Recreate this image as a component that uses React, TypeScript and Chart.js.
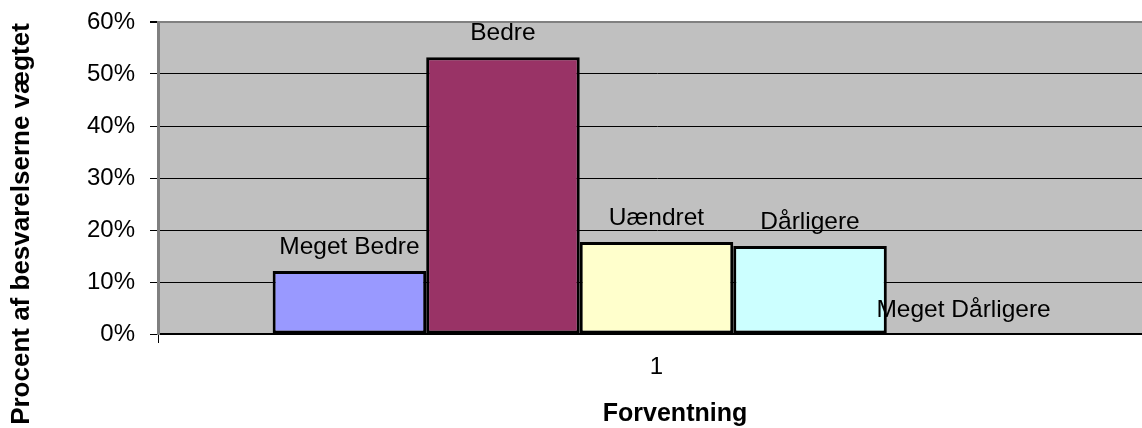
import React, { useEffect, useRef } from "react";
import { Chart, registerables } from "chart.js";

Chart.register(...registerables);

const categories = ["1"];
const seriesNames = ["Meget Bedre", "Bedre", "Uændret", "Dårligere", "Meget Dårligere"];
const seriesValues = [12.1, 53.2, 17.7, 16.9, 0];
const seriesColors = ["#9999FF", "#993366", "#FFFFCC", "#CCFFFF", "#660066"];
const yTicks = [0, 10, 20, 30, 40, 50, 60];
const yTitle = "Procent af besvarelserne vægtet";
const xTitle = "Forventning";

const W = 1155;
const H = 428;

export default function App() {
  const ref = useRef<HTMLCanvasElement | null>(null);
  useEffect(() => {
    const canvas = ref.current!;
    const font = "'Liberation Sans', Arial, sans-serif";
    const decor = {
      id: "decor",
      beforeDraw(chart: any) {
        const { ctx, chartArea: a } = chart;
        ctx.save();
        ctx.fillStyle = "#C0C0C0";
        ctx.fillRect(a.left, a.top, a.right - a.left, a.bottom - a.top);
        ctx.restore();
      },
      afterDatasetsDraw(chart: any) {
        const { ctx } = chart;
        ctx.save();
        ctx.fillStyle = "#000";
        ctx.font = `24.5px ${font}`;
        ctx.textAlign = "center";
        ctx.textBaseline = "alphabetic";
        chart.data.datasets.forEach((ds: any, i: number) => {
          const meta = chart.getDatasetMeta(i);
          const el = meta.data[0];
          if (!el) return;
          ctx.fillText(ds.label, el.x, el.y - 17);
        });
        // titles
        ctx.font = `bold 25px ${font}`;
        ctx.textAlign = "center";
        ctx.textBaseline = "middle";
        ctx.fillText(xTitle, 675, 414);
        ctx.font = `bold 26px ${font}`;
        ctx.translate(22, 224);
        ctx.rotate(-Math.PI / 2);
        ctx.fillText(yTitle, 0, 0);
        ctx.restore();
      },
    };
    const chart = new Chart(canvas, {
      type: "bar",
      data: {
        labels: categories,
        datasets: seriesNames.map((n, i) => ({
          label: n,
          data: [seriesValues[i]],
          backgroundColor: seriesColors[i],
          borderColor: "#000",
          borderWidth: 3,
          borderSkipped: false,
          barPercentage: 1,
          categoryPercentage: 0.77,
        })),
      },
      options: {
        responsive: false,
        animation: false,
        devicePixelRatio: 1,
        layout: { padding: { top: 22, left: 0, right: 0, bottom: 0 } },
        plugins: { legend: { display: false }, tooltip: { enabled: false } },
        scales: {
          x: {
            offset: true,
            grid: {
              drawOnChartArea: false,
              drawTicks: true,
              tickLength: 9,
              tickColor: "#000",
              offset: true,
            },
            border: { color: "#000", width: 2 },
            ticks: {
              color: "#000",
              font: { family: font, size: 24 },
              padding: 10,
            },
            afterFit(s: any) {
              s.height = H - 334;
              s.paddingLeft = 0;
              s.paddingRight = 0;
            },
          },
          y: {
            min: 0,
            max: 60,
            afterBuildTicks(s: any) {
              s.ticks = yTicks.map((v) => ({ value: v }));
            },
            grid: {
              color: (c: any) => (c.tick && c.tick.value === 60 ? "#808080" : "#000"),
              lineWidth: (c: any) => (c.tick && c.tick.value === 60 ? 2 : 1),
              tickColor: "#000",
              tickLength: 8,
            },
            border: { color: "#808080", width: 3 },
            ticks: {
              color: "#000",
              font: { family: font, size: 24 },
              padding: 15,
              callback: (v: any) => `${v}%`,
            },
            afterFit(s: any) {
              s.width = 158;
              s.paddingTop = 0;
              s.paddingBottom = 0;
            },
          },
        },
      },
      plugins: [decor],
    });
    return () => chart.destroy();
  }, []);
  return (
    <div
      style={{
        position: "fixed",
        left: 0,
        top: 0,
        width: 1142,
        height: H,
        overflow: "hidden",
        background: "#fff",
      }}
    >
      <canvas
        ref={ref}
        width={W}
        height={H}
        style={{ width: W, height: H, display: "block" }}
      />
    </div>
  );
}
